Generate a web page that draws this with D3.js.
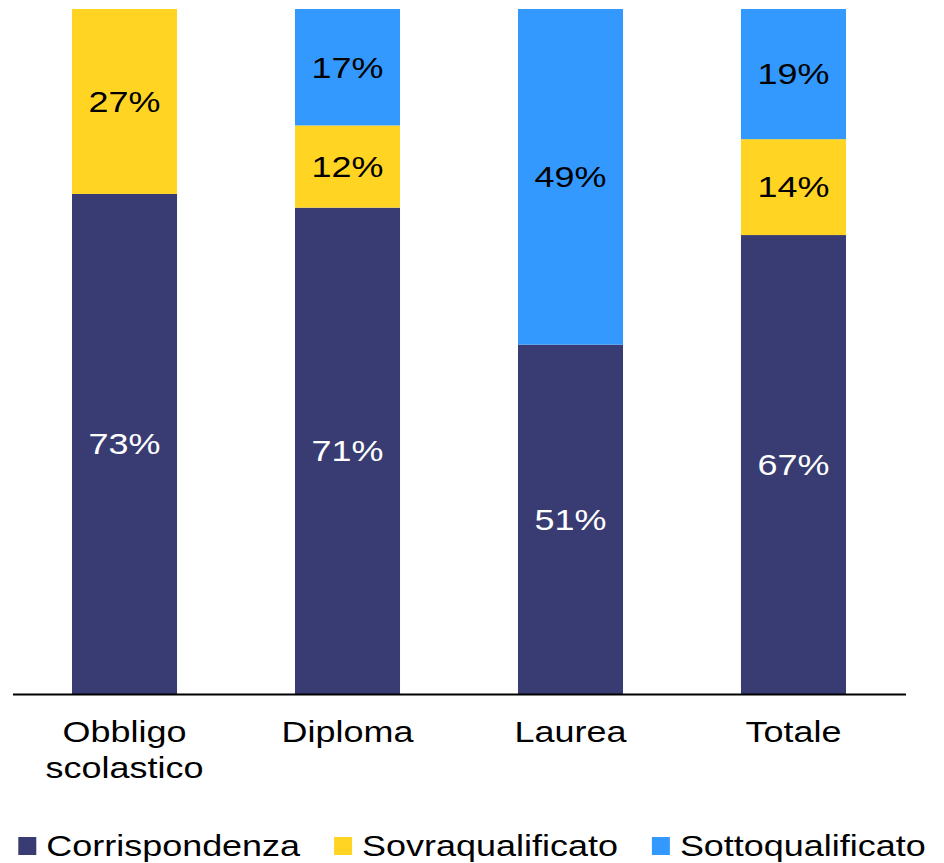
<!DOCTYPE html>
<html>
<head>
<meta charset="utf-8">
<script src="https://cdn.jsdelivr.net/npm/d3@7"></script>
<style>
  body { margin: 0; background: #fff; }
  svg { display: block; font-family: "Liberation Sans", Arial, sans-serif; }
</style>
</head>
<body>
<script>
var width = 944
var height = 863

// data
var categories = [['Obbligo', 'scolastico'], ['Diploma'], ['Laurea'], ['Totale']]
var seriesNames = ['Corrispondenza', 'Sovraqualificato', 'Sottoqualificato']
var corrispondenza = [73, 71, 51, 67]
var sovraqualificato = [27, 12, 0, 14]
var sottoqualificato = [0, 17, 49, 19]

var colors = ['#383c72', '#ffd423', '#3399ff']
var labelColors = ['#fff', '#000', '#000']
var stretch = 1.24   // text in the original is drawn a bit wide
var fontSize = 29

var rows = categories.map((c, i) => ({
    key: c.join(' '),
    lines: c,
    Corrispondenza: corrispondenza[i],
    Sovraqualificato: sovraqualificato[i],
    Sottoqualificato: sottoqualificato[i]
}));

var stack = d3.stack().keys(seriesNames);
var layers = stack(rows);

var x = d3.scaleBand()
    .domain(rows.map(d => d.key))
    .range([13, 905])
    .paddingInner(0.529)
    .paddingOuter(0.2646);

var y = d3.scaleLinear()
    .domain([0, 100])
    .range([694, 9]);

var svg = d3.select('body').append('svg')
    .attr('width', width)
    .attr('height', height);

var layer = svg.selectAll('g.layer')
    .data(layers)
    .enter().append('g')
    .attr('class', 'layer')
    .attr('fill', (d, i) => colors[i]);

layer.selectAll('rect')
    .data(d => d.filter(s => s[1] - s[0] > 0))
    .enter().append('rect')
    .attr('x', d => x(d.data.key))
    .attr('width', x.bandwidth())
    .attr('y', d => y(d[1]))
    .attr('height', d => y(d[0]) - y(d[1]));

// value labels
layers.forEach((l, li) => {
    svg.append('g').selectAll('text')
        .data(l.filter(s => s[1] - s[0] > 0))
        .enter().append('text')
        .attr('text-anchor', 'middle')
        .attr('font-size', fontSize)
        .attr('fill', labelColors[li])
        .attr('transform', d => {
            var cx = x(d.data.key) + x.bandwidth() / 2;
            var cy = (y(d[0]) + y(d[1])) / 2 + fontSize * 0.358;
            return `translate(${cx},${cy}) scale(${stretch},1)`;
        })
        .text(d => (d[1] - d[0]) + '%');
});

// baseline
svg.append('line')
    .attr('x1', 13).attr('x2', 906)
    .attr('y1', y(0) + 0.5).attr('y2', y(0) + 0.5)
    .attr('stroke', '#000')
    .attr('stroke-width', 2);

// category labels
var cat = svg.append('g').selectAll('text')
    .data(rows)
    .enter().append('text')
    .attr('text-anchor', 'middle')
    .attr('font-size', fontSize)
    .attr('fill', '#000')
    .attr('transform', d => `translate(${x(d.key) + x.bandwidth() / 2},742) scale(${stretch},1)`);

cat.selectAll('tspan')
    .data(d => d.lines)
    .enter().append('tspan')
    .attr('x', 0)
    .attr('dy', (d, i) => i ? 36 : 0)
    .text(d => d);

// legend, centred
var legend = svg.append('g');
var items = legend.selectAll('g')
    .data(seriesNames)
    .enter().append('g');

items.append('rect')
    .attr('y', 837)
    .attr('width', 18)
    .attr('height', 18)
    .attr('fill', (d, i) => colors[i]);

items.append('text')
    .attr('font-size', fontSize)
    .attr('fill', '#000')
    .attr('transform', `translate(28,856) scale(${stretch},1)`)
    .text(d => d);

var pos = 0;
var gap = 34;
items.each(function() {
    var w = 28 + d3.select(this).select('text').node().getComputedTextLength() * stretch;
    d3.select(this).attr('transform', `translate(${pos},0)`);
    pos += w + gap;
});
var total = pos - gap;
legend.attr('transform', `translate(${(width - total) / 2},0)`);
</script>
</body>
</html>
